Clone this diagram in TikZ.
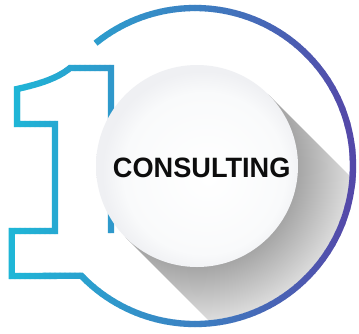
\documentclass[tikz,border=0pt]{standalone}
\usepackage{fontspec}
\setmainfont{Liberation Sans}
\definecolor{cA}{HTML}{1DB9D8}
\definecolor{cB}{HTML}{3C80C2}
\definecolor{cC}{HTML}{5547A8}
\definecolor{shA}{HTML}{909090}
\definecolor{shB}{HTML}{A6A6A6}
\definecolor{shC}{HTML}{DDDDDD}
\definecolor{dkA}{HTML}{FFFFFF}
\definecolor{dkB}{HTML}{F9FAFB}
\definecolor{dkC}{HTML}{EFF0F3}
\pgfdeclareradialshading{shadowshade}{\pgfpoint{0bp}{0bp}}{color(0bp)=(shA); color(16.3bp)=(shB); color(25bp)=(shC); color(50bp)=(shC)}
\pgfdeclareradialshading{discshade}{\pgfpoint{3bp}{-3bp}}{color(0bp)=(dkA); color(20bp)=(dkB); color(25bp)=(dkC); color(50bp)=(dkC)}
\begin{document}
\begin{tikzpicture}[x=1pt,y=-1pt,
  outline/.style={line width=6.3pt, line join=miter, miter limit=10},
  labeltext/.style={font=\bfseries\fontsize{28}{28}\selectfont, text=black!95, xscale=0.97}]
\useasboundingbox (0,0) rectangle (359,333);
\fill[white] (0,0) rectangle (359,333);
% long shadow of the disc
\begin{scope}
  \clip (195,166) circle (155);
  \clip (268.4,94.6) -- (468.4,294.6) -- (325.6,437.4) -- (125.6,237.4) -- cycle;
  \shade[shading=shadowshade] (197,166) circle (155);
\end{scope}
% the "1" outline and ring, shaded left to right in thin strips
\foreach \i in {0,...,71}{
  \pgfmathsetmacro{\xa}{\i*5}
  \pgfmathsetmacro{\xm}{\xa+2.5}
  \ifdim\xm pt<195pt
    \pgfmathtruncatemacro{\p}{\xm/195*100}
    \colorlet{strk}{cB!\p!cA}
  \else
    \pgfmathtruncatemacro{\p}{min(100,(\xm-195)/160*100)}
    \colorlet{strk}{cC!\p!cB}
  \fi
  \begin{scope}
    \clip (\xa-0.3,-10) rectangle (\xa+5.3,345);
    \draw[outline,strk] (111,233) -- (111,68) -- (70,68)
      .. controls (58,78) and (40,84) .. (17,89) -- (17,124) -- (55,124)
      -- (55,231) -- (11.7,231) -- (11.7,276) -- (81.35,275.76)
      arc[start angle=136, end angle=-129, radius=158];
  \end{scope}
}
% white disc
\shade[shading=discshade] (197,166) circle (101);
\node[labeltext] (label) at (201.7,168.3) {CONSULTING};
\end{tikzpicture}
\end{document}
